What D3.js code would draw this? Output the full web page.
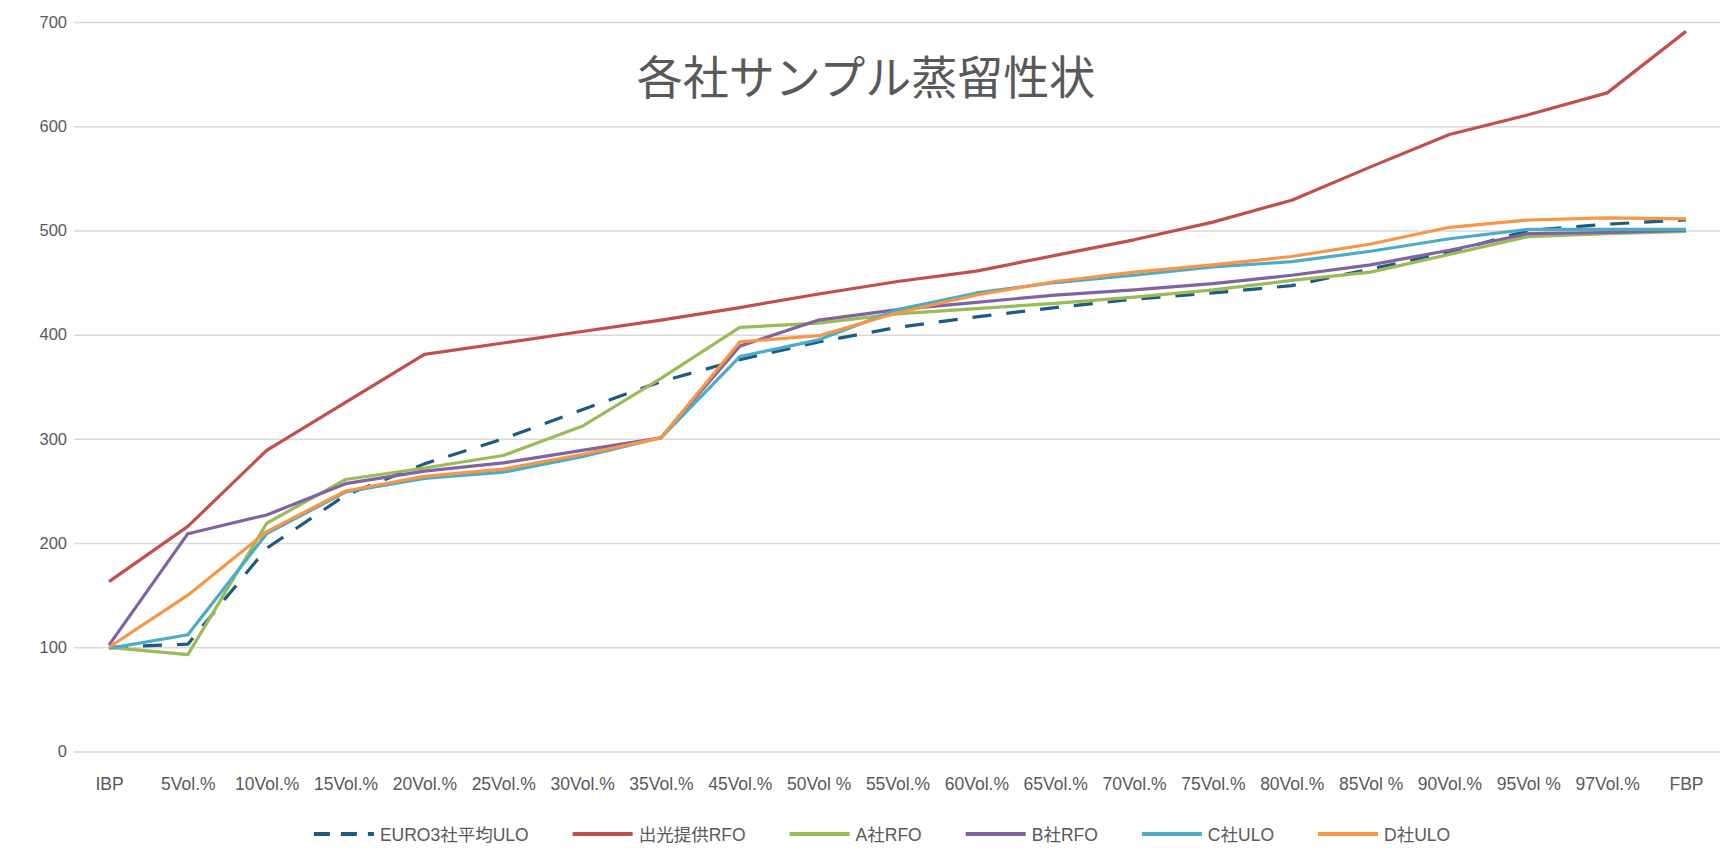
<!DOCTYPE html>
<html>
<head>
<meta charset="utf-8">
<script src="https://cdn.jsdelivr.net/npm/d3@7"></script>
<style>
  body { margin: 0; background: #ffffff; }
  text { font-family: "Liberation Sans", Arial, "Noto Sans CJK JP", sans-serif; }
</style>
</head>
<body>
<div id="chart"></div>
<script>
// ===========Data
var categories = ["IBP", "5Vol.%", "10Vol.%", "15Vol.%", "20Vol.%", "25Vol.%", "30Vol.%",
  "35Vol.%", "45Vol.%", "50Vol %", "55Vol.%", "60Vol.%", "65Vol.%", "70Vol.%", "75Vol.%",
  "80Vol.%", "85Vol %", "90Vol.%", "95Vol %", "97Vol.%", "FBP"];

var yTicks = [0, 100, 200, 300, 400, 500, 600, 700];

var seriesNames = ["EURO3社平均ULO", "出光提供RFO", "A社RFO", "B社RFO", "C社ULO", "D社ULO"];

var euroAvgULO = [100, 103, 195, 246, 276, 300, 328, 355, 376, 393, 407, 417, 426, 434, 440, 447, 463, 479, 500, 506, 510];
var idemitsuRFO = [163, 216, 289, 335, 381, 392, 403, 414, 426, 439, 451, 461, 476, 491, 508, 529, 561, 592, 611, 632, 691];
var companyA_RFO = [100, 93, 219, 261, 272, 284, 312, 358, 407, 411, 420, 425, 430, 436, 443, 452, 460, 477, 494, 497, 499];
var companyB_RFO = [102, 209, 227, 257, 269, 277, 289, 301, 389, 414, 424, 431, 438, 443, 449, 457, 467, 481, 497, 498, 500];
var companyC_ULO = [99, 112, 209, 249, 262, 268, 283, 301, 379, 395, 424, 440, 450, 457, 465, 470, 480, 492, 501, 501, 501];
var companyD_ULO = [100, 150, 211, 250, 264, 271, 285, 301, 393, 399, 421, 438, 451, 460, 467, 475, 487, 503, 510, 512, 511];

var seriesValues = [euroAvgULO, idemitsuRFO, companyA_RFO, companyB_RFO, companyC_ULO, companyD_ULO];
var seriesColors = ["#1f5a80", "#c0504d", "#9bbb59", "#8064a2", "#4bacc6", "#f79646"];

// ===========Set Height, Width and Margins
var svgWidth = 1729;
var svgHeight = 848;
var plot = { left: 74, right: 1720, top: 22, bottom: 751.5 };

var svg = d3.select("#chart").append("svg")
    .attr("width", svgWidth)
    .attr("height", svgHeight);

svg.append("rect")
    .attr("width", svgWidth)
    .attr("height", svgHeight)
    .attr("fill", "#ffffff");

// ===========Scales
var xScale = d3.scalePoint()
    .domain(categories)
    .range([109, 1686]);

var yScale = d3.scaleLinear()
    .domain([0, 700])
    .range([plot.bottom, plot.top]);

// ===========Gridlines + y axis labels
var leftAxis = d3.axisLeft(yScale)
    .tickValues(yTicks)
    .tickSize(-(plot.right - plot.left))
    .tickPadding(7);

var yAxis = svg.append("g")
    .attr("transform", `translate(${plot.left}, 0)`)
    .call(leftAxis);

yAxis.select(".domain").remove();
yAxis.selectAll("line")
    .attr("stroke", "#d9d9d9")
    .attr("stroke-width", 1.5);
yAxis.selectAll("text")
    .attr("fill", "#595959")
    .style("font-size", "16.5px");

// ===========x axis labels
var bottomAxis = d3.axisBottom(xScale)
    .tickSize(0)
    .tickPadding(26);

var xAxis = svg.append("g")
    .attr("transform", `translate(0, ${plot.bottom})`)
    .call(bottomAxis);

xAxis.select(".domain").remove();
xAxis.selectAll("text")
    .attr("fill", "#595959")
    .style("font-size", "17.5px");

// ===========Lines
var line = d3.line()
    .x((d, i) => xScale(categories[i]))
    .y(d => yScale(d));

seriesValues.forEach(function(values, i) {
    svg.append("path")
        .datum(values)
        .attr("d", line)
        .attr("fill", "none")
        .attr("stroke", seriesColors[i])
        .attr("stroke-width", 3.2)
        .attr("stroke-linejoin", "round")
        .attr("stroke-dasharray", i === 0 ? "19,15" : null);
});

// ===========Title
svg.append("text")
    .attr("x", 866)
    .attr("y", 94)
    .attr("text-anchor", "middle")
    .attr("fill", "#595959")
    .style("font-family", "'Noto Sans CJK JP', sans-serif")
    .style("font-size", "46px")
    .text("各社サンプル蒸留性状");

// ===========Legend
var legend = svg.append("g");
var sampleW = 60;
var xPos = 0;

seriesNames.forEach(function(name, i) {
    var item = legend.append("g")
        .attr("transform", `translate(${xPos}, 0)`);

    item.append("line")
        .attr("x1", 0)
        .attr("x2", sampleW)
        .attr("y1", 0)
        .attr("y2", 0)
        .attr("stroke", seriesColors[i])
        .attr("stroke-width", 4)
        .attr("stroke-dasharray", i === 0 ? "16,11" : null);

    var label = item.append("text")
        .attr("x", sampleW + 6)
        .attr("y", 6.5)
        .attr("fill", "#595959")
        .style("font-family", "'Liberation Sans', 'Noto Sans CJK JP', sans-serif")
        .style("font-size", "17.5px")
        .text(name);

    xPos += sampleW + 6 + label.node().getComputedTextLength() + 44;
});

var legendWidth = xPos - 44;
legend.attr("transform", `translate(${882 - legendWidth / 2}, 834)`);
</script>
</body>
</html>
